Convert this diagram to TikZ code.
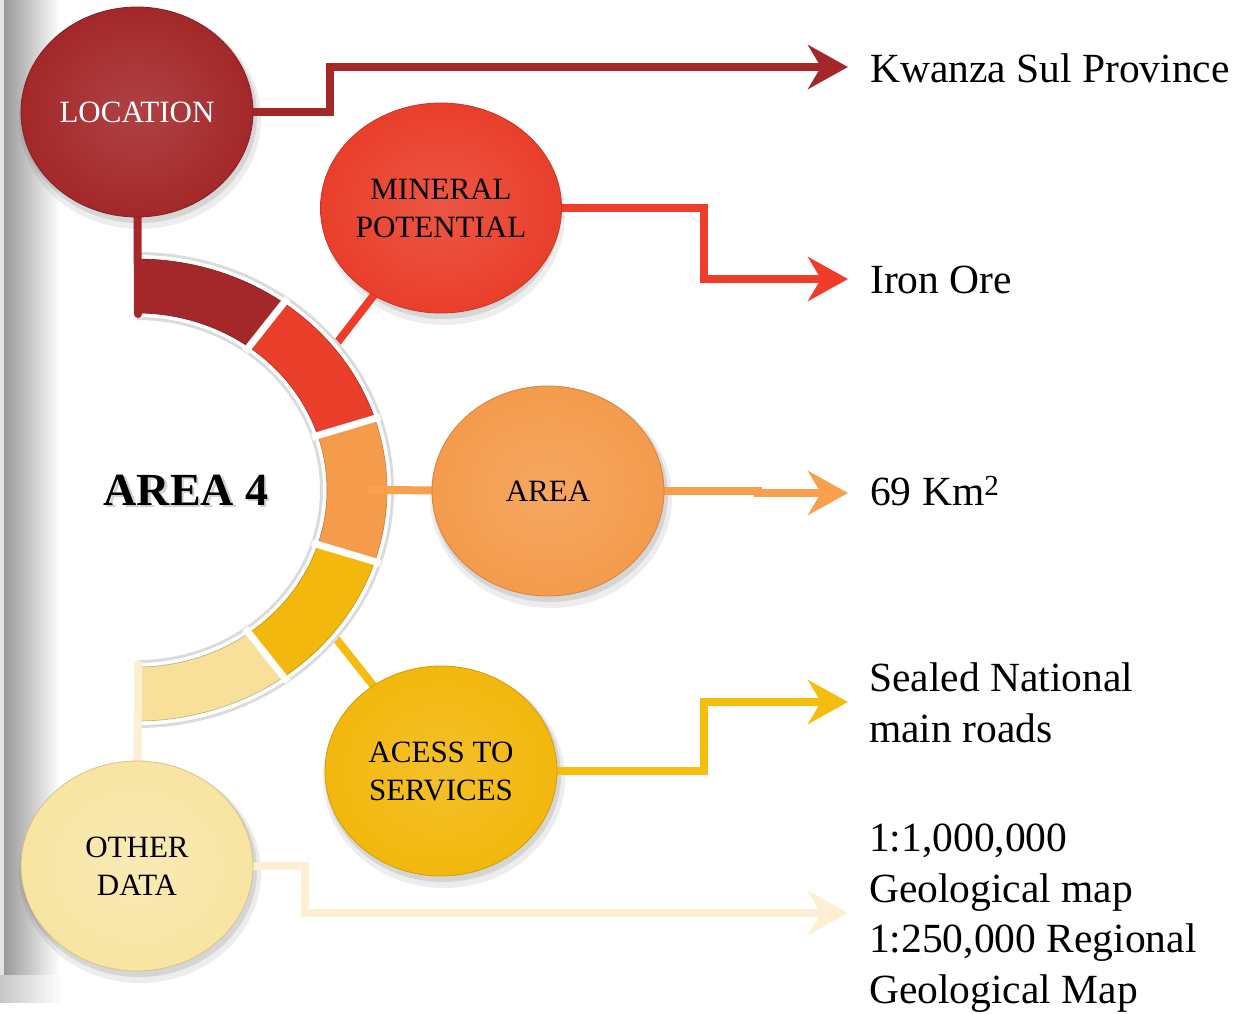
\documentclass[tikz,border=0pt]{standalone}
\usepackage{fontspec}
\setmainfont{Liberation Serif}
\usetikzlibrary{arrows.meta,shapes.geometric,calc}
\definecolor{cLoc}{HTML}{A4282A}
\definecolor{cMin}{HTML}{E93F2B}
\definecolor{cArea}{HTML}{F49B4C}
\definecolor{cAcc}{HTML}{F3B80D}
\definecolor{cOth}{HTML}{F8E5A2}
\definecolor{lMin}{HTML}{EF3D2A}
\definecolor{lArea}{HTML}{F8A04E}
\definecolor{lAcc}{HTML}{F6BC0E}
\definecolor{lOth}{HTML}{FCEFD2}
\pgfdeclarelayer{back}
\pgfdeclarelayer{mid}
\pgfsetlayers{back,mid,main}
\newcommand\annseg[7]{\fill[#7] ($(C)+(#1:#3 and #4)$) arc[start angle=#1,end angle=#2,x radius=#3,y radius=#4] -- ($(C)+(#2:#5 and #6)$) arc[start angle=#2,end angle=#1,x radius=#5,y radius=#6] -- cycle;}
\begin{document}
\begin{tikzpicture}[x=1pt,y=-1pt,
  bubble/.style={ellipse, minimum width=232pt, minimum height=210pt, inner sep=0pt,
    font=\fontsize{31}{38}\selectfont, align=center, line width=0.8pt},
  conn/.style={line width=8pt},
  tipped/.style={-{Stealth[length=40pt,width=44pt,inset=13pt]}},
  rlabel/.style={anchor=base west, inner sep=0pt, font=\fontsize{41.5}{50.5}\selectfont, align=left},
  title/.style={font=\bfseries\fontsize{46}{50}\selectfont, inner sep=0pt},
]
\useasboundingbox (0,0) rectangle (1255,1013);
% ---------- bubbles ----------
\node[bubble, draw=cLoc!80!black, inner color=cLoc!88!white, outer color=cLoc, text=white] (loc) at (137,112) {LOCATION};
\node[bubble, draw=cMin!85!black, inner color=cMin!88!white, outer color=cMin] (min) at (441,208) {MINERAL\\POTENTIAL};
\node[bubble, draw=cArea!85!black, inner color=cArea!88!white, outer color=cArea] (area) at (548,491) {AREA};
\node[bubble, draw=cAcc!85!black, inner color=cAcc!88!white, outer color=cAcc] (acc) at (441,771) {ACESS TO\\SERVICES};
\node[bubble, draw=cOth!85!black, inner color=cOth!80!white, outer color=cOth] (oth) at (137,866) {OTHER\\DATA};
% ---------- centre title ----------
\node[title, text=black!40, opacity=0.45] (titleshadow) at (188.5,492.5) {AREA 4};
\node[title] (ttl) at (186,490) {AREA 4};
% ---------- right labels ----------
\node[rlabel] (kw) at (870,82) {Kwanza Sul Province};
\node[rlabel] (iron) at (870,293) {Iron Ore};
\node[rlabel] (km) at (870,505) {69 Km\textsuperscript{2}};
\node[rlabel] (sealed) at (869,742) {Sealed National\\main roads};
\node[rlabel] (maps) at (869,1003) {1:1,000,000\\Geological map\\1:250,000 Regional\\Geological Map};
% arrow tip points
\coordinate (kwA) at (848,67);
\coordinate (ironA) at (848,279);
\coordinate (kmA) at (848,493);
\coordinate (sealedA) at (848,702);
\coordinate (mapsA) at (848,913);
\coordinate (C) at (137,490);
\coordinate (ringMin) at (330,352);
\coordinate (ringArea) at (368,490);
\coordinate (ringAcc) at (330,631);
\coordinate (locEnd) at (138,314);
\coordinate (othEnd) at (138,664);
% ---------- background layer ----------
\begin{pgfonlayer}{back}
  \fill[gray!22] (0,0) rectangle (4,975);
  \shade[left color=gray!80, right color=white] (4,0) rectangle (60,975);
  \shade[left color=gray!45, right color=white] (0,975) rectangle (62,1002);
  \foreach \n in {loc,min,area,acc,oth}{
    \fill[black,opacity=0.07] ($(\n)+(3,7)$) ellipse[x radius=121, y radius=110];
    \fill[black,opacity=0.10] ($(\n)+(2,4)$) ellipse[x radius=118, y radius=107];
  }
\end{pgfonlayer}
% ---------- connectors and ring ----------
\begin{pgfonlayer}{mid}
  \draw[conn, cLoc, tipped] (loc.east) -- (330,112) -- (330,67) -- (kwA);
  \draw[conn, lMin, tipped] (min.east) -- (704,208) -- (704,279) -- (ironA);
  \draw[conn, lArea, tipped] (area.east) -- (758,491) -- (758,493) -- (kmA);
  \draw[conn, lAcc, tipped] (acc.east) -- (704,771) -- (704,702) -- (sealedA);
  \draw[conn, lOth, tipped] (oth.east) -- (305,866) -- (305,913) -- (mapsA);
  \draw[conn, lMin] (ringMin) -- (min.center);
  \draw[conn, lAcc] (ringAcc) -- (acc.center);
  % ring backdrop
  \annseg{-90}{90}{257}{238}{183}{170}{gray!28}
  \annseg{-90}{90}{254}{235}{186}{173}{white}
  % segments
  \annseg{-90}{-54}{250}{231}{190}{177}{cLoc, draw=cLoc!75!black, line width=0.6pt}
  \annseg{-54}{-18}{250}{231}{190}{177}{cMin, draw=cMin!75!black, line width=0.6pt}
  \annseg{-18}{18}{250}{231}{190}{177}{cArea, draw=cArea!80!black, line width=0.6pt}
  \annseg{18}{54}{250}{231}{190}{177}{cAcc, draw=cAcc!80!black, line width=0.6pt}
  \annseg{54}{90}{250}{231}{190}{177}{cOth!95!orange, draw=cOth!75!black, line width=0.6pt}
  \foreach \a in {-54,-18,18,54}{
    \draw[white, line width=7pt] ($(C)+(\a:184 and 171)$) -- ($(C)+(\a:256 and 237)$);
  }
  \draw[conn, lArea] (ringArea) -- (area.center);
  \draw[conn, cLoc, line cap=round] (loc.center) -- (locEnd);
  \draw[conn, lOth, line cap=round] (oth.center) -- (othEnd);
\end{pgfonlayer}
\end{tikzpicture}
\end{document}
